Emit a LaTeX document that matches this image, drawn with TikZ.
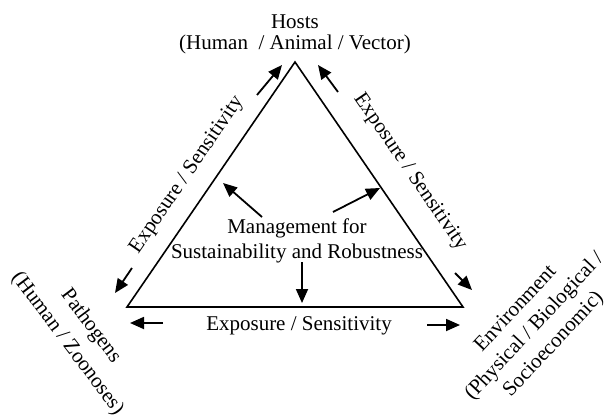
\documentclass[tikz,border=0pt]{standalone}
\usepackage{fontspec}
\setmainfont{Liberation Serif}
\usetikzlibrary{arrows.meta}
\begin{document}
\begin{tikzpicture}[x=1pt,y=-1pt,
  side/.style={line width=1.6pt, line join=miter},
  arr/.style={line width=1.8pt, -{Triangle[length=14pt,width=12pt]}},
  lbl/.style={inner sep=0pt, align=center, font=\fontsize{21}{21}\selectfont}
]
\useasboundingbox (0,0) rectangle (610,417);
% triangle
\coordinate (A) at (295,62);
\coordinate (L) at (127,307);
\coordinate (R) at (463,307);
\draw[side] (A) -- (L) -- (R) -- cycle;
% labels
\node[lbl] (hosts) at (295,34) {Hosts\\(Human\ \ / Animal / Vector)};
\node[lbl, font=\fontsize{21}{25}\selectfont] (mgmt) at (297,241) {Management for\\Sustainability and Robustness};
\node[lbl] (eb) at (299,326) {Exposure / Sensitivity};
\node[lbl, rotate=55.6] (el) at (187,175) {Exposure / Sensitivity};
\node[lbl, rotate=-55.6] (er) at (410,172) {Exposure / Sensitivity};
\node[lbl, rotate=-53, font=\fontsize{21}{29}\selectfont] (path) at (79,335) {Pathogens\\(Human / Zoonoses)};
\node[lbl, rotate=47, font=\fontsize{21}{26}\selectfont] (env) at (535,327) {Environment\\(Physical / Biological /\\Socioeconomic)};
% arrow coordinates
\coordinate (a1s) at (257,95);  \coordinate (a1e) at (282,65);
\coordinate (a2s) at (338,92);  \coordinate (a2e) at (318,65);
\coordinate (a3s) at (132,268); \coordinate (a3e) at (115,293);
\coordinate (a4s) at (455,273); \coordinate (a4e) at (472,290);
\coordinate (a5s) at (163,323); \coordinate (a5e) at (130,323);
\coordinate (a6s) at (427,325); \coordinate (a6e) at (460,325);
\coordinate (m1s) at (262,217); \coordinate (m1e) at (223,183);
\coordinate (m2s) at (333,212); \coordinate (m2e) at (380,188);
\coordinate (m3s) at (302,262); \coordinate (m3e) at (302,303);
\foreach \p in {a1,a2,a3,a4,a5,a6,m1,m2,m3}
  \draw[arr] (\p s) -- (\p e);
\end{tikzpicture}
\end{document}
